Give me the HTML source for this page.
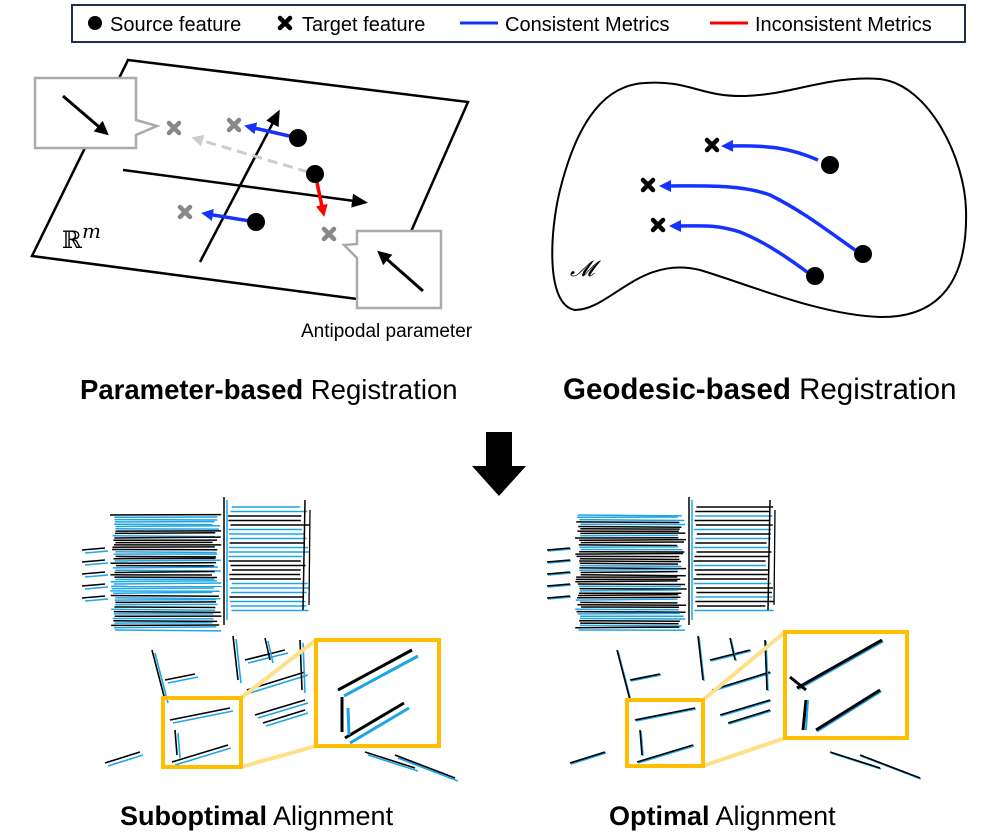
<!DOCTYPE html>
<html><head><meta charset="utf-8"><style>
body{margin:0;background:#fff;}
svg{display:block;font-family:"Liberation Sans",Arial,sans-serif;}
</style></head><body>
<svg id="s" width="997" height="839" viewBox="0 0 997 839" xmlns="http://www.w3.org/2000/svg">
<defs>
<marker id="ak" markerWidth="16" markerHeight="14" refX="10" refY="7" orient="auto" markerUnits="userSpaceOnUse"><path d="M0,0 L16,7 L0,14 z" fill="#000"/></marker>
<marker id="ab" markerWidth="12" markerHeight="12" refX="6" refY="6" orient="auto" markerUnits="userSpaceOnUse"><path d="M0,0 L12,6 L0,12 z" fill="#1432ff"/></marker>
<marker id="ar" markerWidth="12" markerHeight="12" refX="6" refY="6" orient="auto" markerUnits="userSpaceOnUse"><path d="M0,0 L12,6 L0,12 z" fill="#f00"/></marker>
<marker id="ag" markerWidth="12" markerHeight="12" refX="6" refY="6" orient="auto" markerUnits="userSpaceOnUse"><path d="M0,0 L12,6 L0,12 z" fill="#ccc"/></marker>
<marker id="ak2" markerWidth="14" markerHeight="14" refX="9" refY="7" orient="auto" markerUnits="userSpaceOnUse"><path d="M0,0 L14,7 L0,14 z" fill="#000"/></marker>
<g id="xg"><path d="M-5,-5 L5,5 M5,-5 L-5,5" stroke-width="4.5" stroke-linecap="round"/></g>
</defs>
<rect x="72" y="5" width="893" height="37" fill="#fff" stroke="#1f2e4a" stroke-width="2"/>
<circle cx="95" cy="23" r="7"/>
<text x="110" y="31" font-size="20">Source feature</text>
<use href="#xg" x="285" y="23" stroke="#000"/>
<text x="302" y="31" font-size="20">Target feature</text>
<line x1="460" y1="23" x2="498" y2="23" stroke="#1432ff" stroke-width="3"/>
<text x="505" y="31" font-size="20">Consistent Metrics</text>
<line x1="710" y1="23" x2="748" y2="23" stroke="#f00" stroke-width="3"/>
<text x="755" y="31" font-size="20">Inconsistent Metrics</text>
<polygon points="128,60 468,102 380,302 32,256" fill="#fff" stroke="#000" stroke-width="2.5"/>
<line x1="200" y1="262" x2="277" y2="115" stroke="#000" stroke-width="2.5" marker-end="url(#ak)"/>
<line x1="123" y1="170" x2="362" y2="202" stroke="#000" stroke-width="2.5" marker-end="url(#ak)"/>
<line x1="308" y1="172" x2="197" y2="139" stroke="#ccc" stroke-width="3" stroke-dasharray="10,6" marker-end="url(#ag)"/>
<line x1="298" y1="138" x2="250" y2="127" stroke="#1432ff" stroke-width="3.5" marker-end="url(#ab)"/>
<line x1="256" y1="222" x2="207" y2="214" stroke="#1432ff" stroke-width="3.5" marker-end="url(#ab)"/>
<line x1="316" y1="178" x2="323" y2="211" stroke="#f00" stroke-width="3.5" marker-end="url(#ar)"/>
<g stroke="#888"><use href="#xg" x="174" y="128"/><use href="#xg" x="234" y="125"/><use href="#xg" x="185" y="212"/><use href="#xg" x="329" y="234"/></g>
<circle cx="298" cy="138" r="9"/><circle cx="315" cy="174" r="9"/><circle cx="256" cy="222" r="9"/>
<text x="62" y="248" font-size="24" font-family="DejaVu Serif,serif">ℝ<tspan font-style="italic" dy="-10" font-size="20">m</tspan></text>
<path d="M35,78 H136 V120 L157,126 L136,135 V148 H35 Z" fill="#fff" stroke="#aaa" stroke-width="2.5"/>
<line x1="63" y1="96" x2="105" y2="132" stroke="#000" stroke-width="3" marker-end="url(#ak2)"/>
<path d="M357,231 H441 V308 H357 V258 L344,245 L357,244 Z" fill="#fff" stroke="#aaa" stroke-width="2.5"/>
<line x1="423" y1="291" x2="381" y2="254" stroke="#000" stroke-width="3" marker-end="url(#ak2)"/>
<text x="301" y="337" font-size="19">Antipodal parameter</text>
<path d="M575,310 C545,305 550,230 560,190 C575,130 600,85 645,83 C690,80 700,97 745,96 C790,95 830,75 880,79 C930,85 965,160 966,210 C968,280 940,318 880,317 C820,315 750,285 700,270 C640,255 610,310 575,310 Z" fill="#fff" stroke="#000" stroke-width="2"/>
<text x="570" y="276" font-size="22" font-style="italic" font-family="DejaVu Serif,serif">𝓜</text>
<path d="M818,160 C790,148 770,145 727,146" fill="none" stroke="#1432ff" stroke-width="3.5" marker-end="url(#ab)"/>
<path d="M855,250 C820,225 800,210 770,195 C740,184 700,186 665,186" fill="none" stroke="#1432ff" stroke-width="3.5" marker-end="url(#ab)"/>
<path d="M807,272 C780,252 760,240 740,232 C715,224 700,226 675,226" fill="none" stroke="#1432ff" stroke-width="3.5" marker-end="url(#ab)"/>
<g stroke="#000"><use href="#xg" x="712" y="145"/><use href="#xg" x="648" y="185"/><use href="#xg" x="658" y="225"/></g>
<circle cx="830" cy="165" r="9"/><circle cx="863" cy="254" r="9"/><circle cx="815" cy="276" r="9"/>
<text x="80" y="399" font-size="27.5"><tspan font-weight="bold">Parameter-based</tspan> Registration</text>
<text x="563" y="399" font-size="29.5"><tspan font-weight="bold">Geodesic-based</tspan> Registration</text>
<polygon points="486,432 512,432 512,466 526,466 499,496 472,466 486,466" fill="#000"/>
<text x="120" y="825" font-size="27"><tspan font-weight="bold">Suboptimal</tspan> Alignment</text>
<text x="609" y="825" font-size="27"><tspan font-weight="bold">Optimal</tspan> Alignment</text>
<g id="imgs"></g>
</svg>
<script>
var seed=7;function r(){seed=(seed*16807)%2147483647;return seed/2147483647;}
var g=document.getElementById('imgs'),ns='http://www.w3.org/2000/svg';
function L(x1,y1,x2,y2,c,w){var l=document.createElementNS(ns,'line');l.setAttribute('x1',x1);l.setAttribute('y1',y1);l.setAttribute('x2',x2);l.setAttribute('y2',y2);l.setAttribute('stroke',c);l.setAttribute('stroke-width',w||1.5);g.appendChild(l);}
function pair(x1,y1,x2,y2,o){L(x1+o,y1+o,x2+o,y2+o,'#1ea5e6',1.6);L(x1,y1,x2,y2,'#000',1.6);}
function scene(ox,o,dark){
 for(var y=515;y<632;y+=2.3){var x0=ox+110+r()*6,x1=ox+212+r()*10;L(x0,y,x1,y+r()*2-1,r()<dark?'#000':'#1ea5e6',1.5);}
 for(var y=507;y<615;y+=4.5){var x0=ox+228+r()*4,x1=ox+300+r()*10;L(x0,y,x1,y,r()<0.5?'#000':'#1ea5e6',1.4);}
 L(ox+224,497,ox+224,625,'#000',1.5);L(ox+227,500,ox+227,620,'#1ea5e6',1.5);
 L(ox+305,500,ox+303,610,'#000',1.5);L(ox+310,510,ox+309,605,'#000',1.3);
 for(var i=0;i<5;i++){var y=550+i*12;pair(ox+82,y,ox+105,y-2,o);}
 pair(ox+152,650,ox+165,700,o);pair(ox+165,680,ox+195,674,o);pair(ox+233,636,ox+238,680,o);
 pair(ox+245,660,ox+285,650,o);pair(ox+247,690,ox+305,672,o);pair(ox+255,715,ox+305,700,o);pair(ox+263,723,ox+305,710,o);
 pair(ox+265,638,ox+270,660,o);pair(ox+300,640,ox+302,690,o);pair(ox+170,720,ox+230,708,o);pair(ox+172,762,ox+228,745,o);
 pair(ox+175,730,ox+177,755,o);pair(ox+105,763,ox+140,752,o);pair(ox+395,755,ox+455,778,o);pair(ox+365,752,ox+415,768,o);
 pair(ox+340,720,ox+405,683,o);pair(ox+340,690,ox+405,652,o);pair(ox+340,715,ox+340,695,o);
}
scene(0,3,0.45);scene(465,1,0.7);
function yb(a){var p=document.createElementNS(ns,'g');p.innerHTML=a;g.appendChild(p);}
yb('<line x1="241" y1="698" x2="316" y2="640" stroke="#ffe08a" stroke-width="4"/><line x1="241" y1="767" x2="316" y2="746" stroke="#ffe08a" stroke-width="4"/><rect x="163" y="698" width="78" height="69" fill="none" stroke="#ffbf00" stroke-width="4"/><rect x="316" y="640" width="123" height="106" fill="#fff" stroke="#ffbf00" stroke-width="4"/>'
+'<line x1="703" y1="700" x2="785" y2="632" stroke="#ffe08a" stroke-width="4"/><line x1="703" y1="766" x2="785" y2="738" stroke="#ffe08a" stroke-width="4"/><rect x="627" y="700" width="76" height="66" fill="none" stroke="#ffbf00" stroke-width="4"/><rect x="785" y="632" width="122" height="106" fill="#fff" stroke="#ffbf00" stroke-width="4"/>');
function zl(x1,y1,x2,y2,o){L(x1+o,y1+o,x2+o,y2+o,'#1ea5e6',3);L(x1,y1,x2,y2,'#000',3);}
zl(338,690,412,650,6);zl(345,738,404,703,5);L(342,697,342,732,'#000',3);L(348,708,349,735,'#1ea5e6',3);
zl(797,688,882,640,1);zl(816,730,880,690,1);L(806,700,803,730,'#000',3);L(808,700,806,730,'#1ea5e6',2);L(790,677,806,690,'#000',3);
</script>
</body></html>
